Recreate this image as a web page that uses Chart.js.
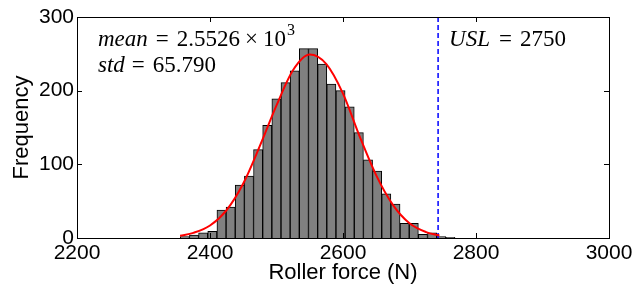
<!DOCTYPE html>
<html lang="en">
<head>
<meta charset="UTF-8">
<title>Roller force histogram</title>
<script src="https://cdn.jsdelivr.net/npm/chart.js"></script>
<style>
    body { margin: 0; background: #fff; }
    .wrap { width: 633px; height: 287px; }
</style>
</head>
<body>
<div class="wrap"><canvas id="histChart" width="633" height="287"></canvas></div>
<script>
// histogram bins (N) and counts
const binEdges = [2355.3, 2369.1, 2382.8, 2396.6, 2410.4, 2424.2, 2437.9, 2451.7, 2465.5, 2479.2,
                  2493.0, 2506.8, 2520.5, 2534.3, 2548.1, 2561.9, 2575.6, 2589.4, 2603.2, 2616.9,
                  2630.7, 2644.5, 2658.2, 2672.0, 2685.8, 2699.6, 2713.3, 2727.1, 2740.9, 2754.6, 2768.4];
const binCounts = [2, 4, 7, 9, 38, 42, 72, 84, 120, 153,
                   189, 211, 227, 257, 257, 236, 209, 200, 178, 143,
                   106, 91, 60, 46, 20, 20, 5, 7, 2, 1];

// fitted normal curve
const curveX = [2355, 2375, 2400, 2425, 2450, 2475, 2500, 2525, 2550, 2575, 2600, 2625, 2650, 2675, 2700, 2725, 2745];
const curveY = [3, 7, 17, 38, 74, 125, 180, 228, 249, 236, 196, 138, 85, 45, 20, 8, 3.5];

// USL dashed line (drawn where it sits in the picture)
const uslX = 2743;

const xTicks = [2200, 2400, 2600, 2800, 3000];
const yTicks = [0, 100, 200, 300];

const barData = binCounts.map((c, i) => ({ x: (binEdges[i] + binEdges[i + 1]) / 2, y: c }));
const curveData = curveX.map((x, i) => ({ x: x, y: curveY[i] }));
const uslData = [{ x: uslX, y: 0 }, { x: uslX, y: 300 }];

// latex-ish text: each part is [text, italic, superscript, gap after]
function drawMath(ctx, parts, x, y) {
    let cx = x;
    parts.forEach(p => {
        const size = p[2] ? 16 : 23;
        ctx.font = (p[1] ? 'italic ' : '') + size + 'px "Liberation Serif", serif';
        ctx.fillText(p[0], cx, p[2] ? y - 11 : y);
        cx += ctx.measureText(p[0]).width + (p[3] || 0);
    });
}

const framePlugin = {
    id: 'frame',
    afterDatasetsDraw(chart) {
        const { ctx, chartArea: a, scales } = chart;
        ctx.save();
        ctx.strokeStyle = '#000';
        ctx.lineWidth = 1;
        ctx.beginPath();
        xTicks.forEach(v => {
            const px = Math.round(scales.x.getPixelForValue(v)) + 0.5;
            ctx.moveTo(px, a.bottom); ctx.lineTo(px, a.bottom - 5);
            ctx.moveTo(px, a.top); ctx.lineTo(px, a.top + 5);
        });
        yTicks.forEach(v => {
            const py = Math.round(scales.y.getPixelForValue(v)) + 0.5;
            ctx.moveTo(a.left, py); ctx.lineTo(a.left + 5, py);
            ctx.moveTo(a.right, py); ctx.lineTo(a.right - 5, py);
        });
        ctx.stroke();
        ctx.strokeRect(Math.round(a.left) + 0.5, Math.round(a.top) + 0.5,
                       Math.round(a.right - a.left), Math.round(a.bottom - a.top));

        ctx.fillStyle = '#000';
        ctx.textBaseline = 'alphabetic';
        drawMath(ctx, [['mean', true, false, 8], ['=', false, false, 8], ['2.5526', false, false, 5],
                       ['\u00d7', false, false, 5], ['10', false, false, 1], ['3', false, true]], a.left + 21, 46);
        drawMath(ctx, [['std', true, false, 7], ['=', false, false, 8], ['65.790', false]], a.left + 21, 72);
        drawMath(ctx, [['USL', true, false, 9], ['=', false, false, 8], ['2750', false]],
                 scales.x.getPixelForValue(uslX) + 11, 46);
        ctx.restore();
    }
};

new Chart(document.getElementById('histChart'), {
    type: 'bar',
    data: {
        datasets: [
            {
                type: 'line',
                data: curveData,
                borderColor: '#ff0000',
                borderWidth: 2,
                pointRadius: 0,
                cubicInterpolationMode: 'monotone',
                order: 1
            },
            {
                type: 'line',
                data: uslData,
                borderColor: '#0000ff',
                borderWidth: 1.5,
                borderDash: [5, 3],
                pointRadius: 0,
                order: 2
            },
            {
                data: barData,
                backgroundColor: '#808080',
                borderColor: '#000',
                borderWidth: 1,
                barPercentage: 1,
                categoryPercentage: 1,
                order: 3
            }
        ]
    },
    options: {
        responsive: false,
        animation: false,
        devicePixelRatio: 1,
        layout: { padding: { left: 0, right: 24, top: 17, bottom: 0 } },
        plugins: { legend: { display: false }, tooltip: { enabled: false } },
        scales: {
            x: {
                type: 'linear',
                min: 2200,
                max: 3000,
                offset: false,
                grid: { display: false, drawTicks: false },
                border: { display: false },
                afterBuildTicks: s => { s.ticks = xTicks.map(v => ({ value: v })); },
                afterFit: s => { s.height = 49; s.paddingLeft = 0; s.paddingRight = 0; },
                ticks: {
                    padding: 3,
                    color: '#000',
                    maxRotation: 0,
                    callback: v => String(v),
                    font: { family: '"Liberation Sans", Arial, sans-serif', size: 21 }
                },
                title: {
                    display: true,
                    text: 'Roller force (N)',
                    color: '#000',
                    padding: { top: 0, bottom: 1 },
                    font: { family: '"Liberation Sans", Arial, sans-serif', size: 22, lineHeight: 1.2 }
                }
            },
            y: {
                min: 0,
                max: 300,
                grid: { display: false, drawTicks: false },
                border: { display: false },
                afterBuildTicks: s => { s.ticks = yTicks.map(v => ({ value: v })); },
                afterFit: s => { s.width = 77; s.paddingTop = 0; s.paddingBottom = 0; },
                ticks: {
                    padding: 3,
                    color: '#000',
                    callback: v => String(v),
                    font: { family: '"Liberation Sans", Arial, sans-serif', size: 21 }
                },
                title: {
                    display: true,
                    text: 'Frequency',
                    color: '#000',
                    padding: { top: 9, bottom: 0 },
                    font: { family: '"Liberation Sans", Arial, sans-serif', size: 22, lineHeight: 1.2 }
                }
            }
        }
    },
    plugins: [framePlugin]
});
</script>
</body>
</html>
